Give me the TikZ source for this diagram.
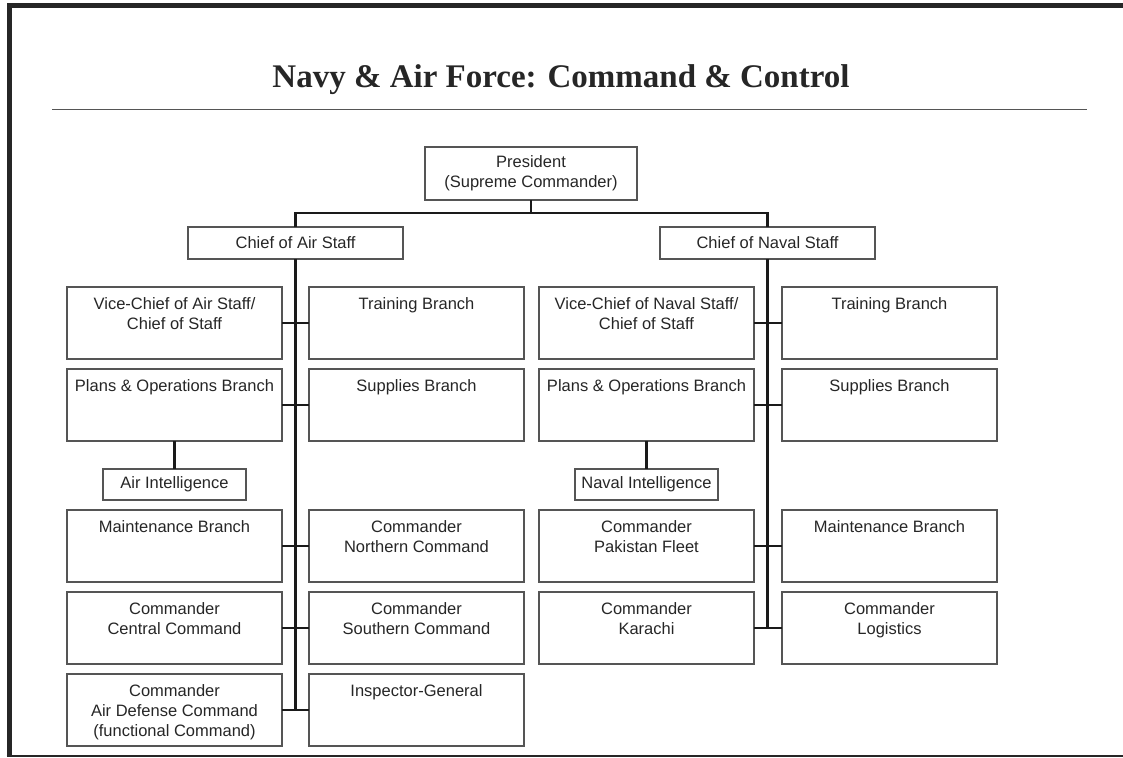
\documentclass[tikz,border=0pt]{standalone}
\usepackage{fontspec}
\setmainfont{Liberation Serif}
\newfontfamily\orgsans{Liberation Sans}
\definecolor{ink}{HTML}{262626}
\definecolor{edge}{HTML}{555555}
\definecolor{wire}{HTML}{1A1A1A}
\definecolor{framecol}{HTML}{262626}
% fixed-size cell with its text hanging from the top edge
\newcommand\cellbody[1]{\parbox[t][72pt][t]{215pt}{\centering\rule{0pt}{22pt}#1\par}}
\tikzset{
  orgfont/.style={font=\orgsans\fontsize{16.5}{20}\selectfont, text=ink},
  unit/.style={orgfont, draw=edge, line width=1.3pt, inner sep=0pt, outer sep=0pt, anchor=north west},
  slim/.style={orgfont, draw=edge, line width=1.3pt, inner sep=0pt, outer sep=0pt, align=center,
    minimum width=215pt, minimum height=32pt},
  wire/.style={draw=wire, line width=2.2pt},
}
\begin{document}
\begin{tikzpicture}[x=1pt,y=-1pt]
\useasboundingbox (0,0) rectangle (1123,757);
% page frame
\fill[framecol] (6.7,3.3) rectangle (1123,8.3);
\fill[framecol] (6.7,3.3) rectangle (11.7,757);
\draw[framecol, line width=2pt] (6.7,755.5) -- (1123,755.5);
% title and rule
\node[anchor=base, inner sep=0pt, text=framecol, font=\bfseries\fontsize{33}{40}\selectfont] (title) at (561,88) {Navy \& Air Force: Command \& Control};
\coordinate (ruleL) at (52,109.3);
\coordinate (ruleR) at (1086.5,109.3);
\draw[edge, line width=1.5pt] (ruleL) -- (ruleR);

% top of the chain
\node[slim, minimum width=212pt, minimum height=53pt] (pres) at (531,173.5) {President\\(Supreme Commander)};
\node[slim] (cas) at (295.5,243) {Chief of Air Staff};
\node[slim] (cns) at (767.5,243) {Chief of Naval Staff};

% Air Force branches
\node[unit] (avc) at (67,287) {\cellbody{Vice-Chief of Air Staff/\\Chief of Staff}};
\node[unit] (atr) at (309,287) {\cellbody{Training Branch}};
\node[unit] (apo) at (67,369) {\cellbody{Plans \& Operations Branch}};
\node[unit] (asu) at (309,369) {\cellbody{Supplies Branch}};
\node[slim, minimum width=143pt, minimum height=31pt] (aint) at (174.5,484.5) {Air Intelligence};
\node[unit] (amb) at (67,510) {\cellbody{Maintenance Branch}};
\node[unit] (anc) at (309,510) {\cellbody{Commander\\Northern Command}};
\node[unit] (acc) at (67,592) {\cellbody{Commander\\Central Command}};
\node[unit] (asc) at (309,592) {\cellbody{Commander\\Southern Command}};
\node[unit] (adc) at (67,674) {\cellbody{Commander\\Air Defense Command\\(functional Command)}};
\node[unit] (aig) at (309,674) {\cellbody{Inspector-General}};

% Navy branches
\node[unit] (nvc) at (539,287) {\cellbody{Vice-Chief of Naval Staff/\\Chief of Staff}};
\node[unit] (ntr) at (782,287) {\cellbody{Training Branch}};
\node[unit] (npo) at (539,369) {\cellbody{Plans \& Operations Branch}};
\node[unit] (nsu) at (782,369) {\cellbody{Supplies Branch}};
\node[slim, minimum width=143pt, minimum height=31pt] (nint) at (646.5,484.5) {Naval Intelligence};
\node[unit] (npf) at (539,510) {\cellbody{Commander\\Pakistan Fleet}};
\node[unit] (nmb) at (782,510) {\cellbody{Maintenance Branch}};
\node[unit] (nka) at (539,592) {\cellbody{Commander\\Karachi}};
\node[unit] (nlg) at (782,592) {\cellbody{Commander\\Logistics}};

% connectors
\draw[wire] (pres.south) -- ++(0,13);
\draw[wire] (cas.north) -- ++(0,-14) -| (cns.north);
\draw[wire] (cas.south) -- (cas.south |- aig.west);
\draw[wire] (cns.south) -- (cns.south |- nlg.west);
\foreach \l/\r in {avc/atr, apo/asu, amb/anc, acc/asc, adc/aig, nvc/ntr, npo/nsu, npf/nmb, nka/nlg}
  \draw[wire] (\l.east) -- (\r.west);
\draw[wire] (apo.south) -- (aint.north);
\draw[wire] (npo.south) -- (nint.north);
\end{tikzpicture}
\end{document}
